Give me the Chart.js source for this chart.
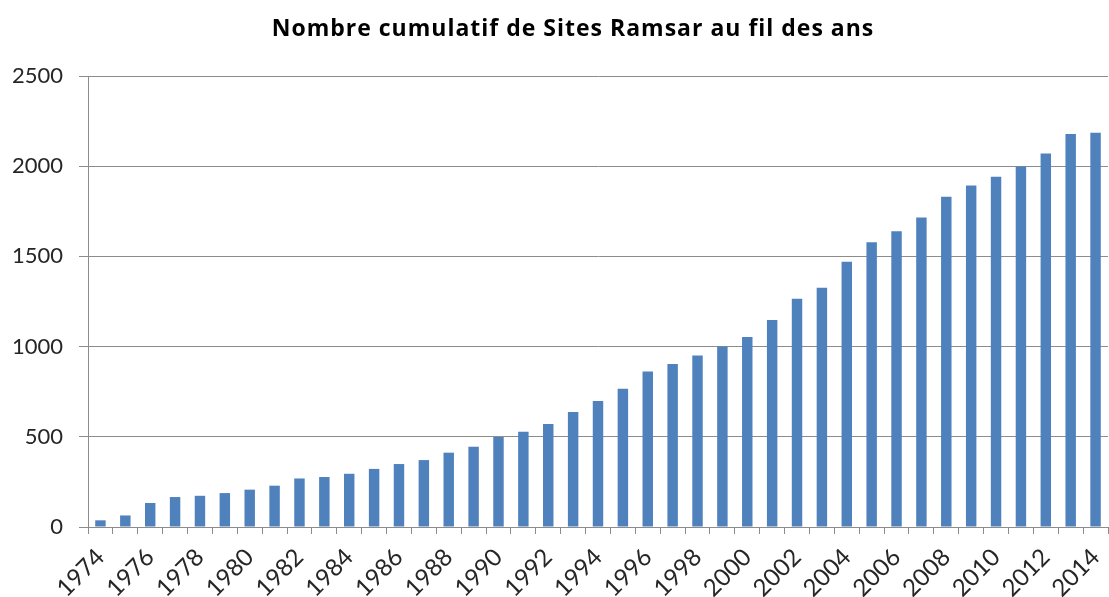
<!DOCTYPE html>
<html>
<head>
<meta charset="utf-8">
<script src="https://cdn.jsdelivr.net/npm/chart.js@4.4.0/dist/chart.umd.min.js"></script>
<style>
  html, body { margin: 0; padding: 0; background: #fff; }
  #wrap { width: 1109px; height: 597px; }
</style>
</head>
<body>
<div id="wrap"><canvas id="myChart" width="1109" height="597"></canvas></div>
<script>
var years = [];
for (let y = 1974; y <= 2014; y++) years.push(String(y));

var sites = [37, 64, 133, 166, 173, 188, 207, 229, 269, 277,
             295, 322, 349, 371, 412, 445, 499, 528, 571, 637,
             698, 766, 862, 903, 951, 1001, 1053, 1148, 1265, 1326,
             1470, 1579, 1640, 1715, 1830, 1893, 1941, 1998, 2070, 2179,
             2186];

var yTicks = [0, 500, 1000, 1500, 2000, 2500];

var chartTitle = 'Nombre cumulatif de Sites Ramsar au fil des ans';

// title is drawn by hand so it can sit a bit right of the canvas centre, like the original
var titlePlugin = {
    id: 'titleText',
    afterDraw: function (c) {
        let g = c.ctx;
        g.save();
        g.font = 'bold 23px "Open Sans"';
        g.letterSpacing = '1px';
        g.fillStyle = '#000';
        g.textAlign = 'center';
        g.textBaseline = 'alphabetic';
        g.fillText(chartTitle, 573, 36);
        g.restore();
    },
};

var chart;
function draw_plot() {
    var ctx = document.getElementById('myChart');
    chart = new Chart(ctx, {
        type: 'bar',
        data: {
            labels: years,
            datasets: [
                {
                    label: 'Sites Ramsar',
                    data: sites,
                    backgroundColor: '#4F81BD',
                    borderWidth: 0,
                    categoryPercentage: 1.0,
                    barPercentage: 0.42,
                },
            ],
        },
        plugins: [titlePlugin],
        options: {
            responsive: false,
            animation: false,
            layout: { padding: { left: 0, right: 1, top: 76, bottom: 0 } },
            scales: {
                x: {
                    offset: true,
                    grid: {
                        offset: true,
                        drawOnChartArea: false,
                        drawTicks: true,
                        tickLength: 7,
                        color: '#8c8c8c',
                    },
                    border: { display: true, color: '#8c8c8c', width: 1 },
                    ticks: {
                        autoSkip: false,
                        maxRotation: 45,
                        minRotation: 45,
                        padding: 9,
                        color: '#262626',
                        font: { family: 'Lato', size: 24 },
                        callback: function (val, i) {
                            return i % 2 === 0 ? years[i] : '';
                        },
                    },
                    afterFit: function (s) {
                        s.height = 70;
                        s.paddingLeft = 0;
                        s.paddingRight = 0;
                    },
                },
                y: {
                    min: 0,
                    max: 2500,
                    afterBuildTicks: function (s) {
                        s.ticks = yTicks.map(v => ({ value: v }));
                    },
                    grid: {
                        color: '#8c8c8c',
                        drawTicks: true,
                        tickLength: 9,
                    },
                    border: { display: true, color: '#8c8c8c', width: 1 },
                    ticks: {
                        padding: 16,
                        color: '#262626',
                        font: { family: 'Lato', size: 22 },
                        callback: function (v) { return String(v); },
                    },
                    afterFit: function (s) {
                        s.width = 88;
                    },
                },
            },
            plugins: {
                legend: { display: false },
                tooltip: { enabled: false },
                title: { display: false },
            },
        },
    });
}
draw_plot();
</script>
</body>
</html>
